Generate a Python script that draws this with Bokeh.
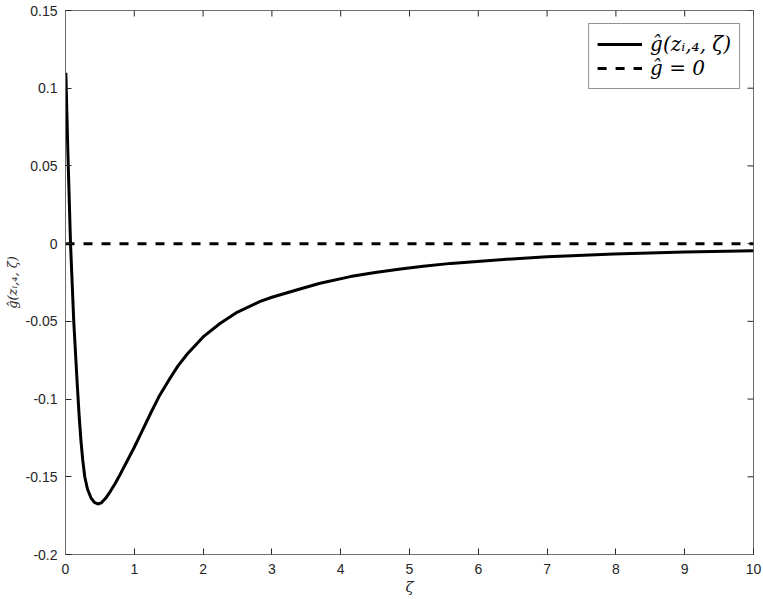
import math
from bokeh.plotting import figure
from bokeh.models import (Legend, LegendItem, Range1d, FixedTicker,
                          CustomJSTickFormatter)
from bokeh.embed import file_html
from bokeh.resources import INLINE

# ---- data ----
zeta = [0.005, 0.035, 0.073, 0.12, 0.17, 0.20, 0.225, 0.25, 0.28, 0.32,
        0.37, 0.42, 0.47, 0.52, 0.58, 0.65, 0.72, 0.80, 0.90, 1.00, 1.12,
        1.25, 1.37, 1.50, 1.63, 1.77, 2.00, 2.25, 2.50, 2.83, 3.00, 3.42,
        3.70, 4.14, 4.50, 4.87, 5.20, 5.60, 6.32, 7.00, 7.97, 9.00, 10.0]
g_hat = [0.110, 0.058, 0.000, -0.050, -0.090, -0.112, -0.127, -0.139,
         -0.150, -0.158, -0.1635, -0.1665, -0.1675, -0.1668, -0.1640,
         -0.1595, -0.1545, -0.1480, -0.1395, -0.1310, -0.1200, -0.1080,
         -0.0975, -0.0880, -0.0790, -0.0710, -0.0600, -0.0512, -0.0440,
         -0.0372, -0.0345, -0.0290, -0.0255, -0.0212, -0.0185, -0.0163,
         -0.0145, -0.0127, -0.0103, -0.0085, -0.0066, -0.0054, -0.0045]
zero_x = [0, 10]
zero_y = [0, 0]

x_min, x_max = 0, 10
y_min, y_max = -0.2, 0.15
x_ticks = [0, 1, 2, 3, 4, 5, 6, 7, 8, 9, 10]
x_tick_labels = ["0", "1", "2", "3", "4", "5", "6", "7", "8", "9", "10"]
y_ticks = [-0.2, -0.15, -0.1, -0.05, 0, 0.05, 0.1, 0.15]
y_tick_labels = ["-0.2", "-0.15", "-0.1", "-0.05", "0", "0.05", "0.1", "0.15"]

legend_labels = ["ĝ(zᵢ,₄, ζ)", "ĝ = 0"]
x_label = "ζ"
y_label = "ĝ(zᵢ,₄, ζ)"

AX = "#262626"
AXL = "#6e6e6e"

p = figure(width=763, height=599,
           x_range=Range1d(x_min, x_max), y_range=Range1d(y_min, y_max),
           output_backend="svg", toolbar_location=None,
           min_border_left=65, min_border_top=10, min_border_right=10,
           min_border_bottom=45)
p.xgrid.visible = False
p.ygrid.visible = False
p.outline_line_color = AXL
p.outline_line_width = 1
p.background_fill_color = "white"
p.border_fill_color = "white"

code = """
let best = 0;
for (let i = 0; i < tvals.length; i++) {
  if (Math.abs(tvals[i] - tick) < Math.abs(tvals[best] - tick)) best = i;
}
return tlabs[best];
"""
xfmt = CustomJSTickFormatter(args=dict(tvals=x_ticks, tlabs=x_tick_labels), code=code)
yfmt = CustomJSTickFormatter(args=dict(tvals=y_ticks, tlabs=y_tick_labels), code=code)


def style(ax, ticks, fmt):
    ax.ticker = FixedTicker(ticks=ticks)
    ax.formatter = fmt
    ax.axis_line_color = AXL
    ax.axis_line_width = 1
    ax.major_tick_line_color = AX
    ax.major_tick_line_width = 1
    ax.major_tick_in = 6
    ax.major_tick_out = 0
    ax.minor_tick_line_color = None
    ax.major_label_text_font = "Liberation Sans"
    ax.major_label_text_font_size = "14px"
    ax.major_label_text_color = AX


style(p.xaxis[0], x_ticks, xfmt)
style(p.yaxis[0], y_ticks, yfmt)
p.xaxis[0].major_label_standoff = 9
p.yaxis[0].major_label_standoff = 8
p.xaxis[0].axis_label = x_label
p.xaxis[0].axis_label_text_font = "DejaVu Serif"
p.xaxis[0].axis_label_text_font_style = "italic"
p.xaxis[0].axis_label_text_font_size = "15px"
p.xaxis[0].axis_label_text_color = AX
p.xaxis[0].axis_label_standoff = 1
p.yaxis[0].axis_label = y_label
p.yaxis[0].axis_label_text_font = "DejaVu Serif"
p.yaxis[0].axis_label_text_font_style = "italic"
p.yaxis[0].axis_label_text_font_size = "13px"
p.yaxis[0].axis_label_text_color = AX
p.yaxis[0].axis_label_standoff = 3

# inward ticks on the top and right edges of the box (MATLAB "box on")
p.ray(x=x_ticks, y=[y_max] * len(x_ticks), length=6, length_units="screen",
      angle=-math.pi / 2, line_color=AX, line_width=1)
p.ray(x=[x_max] * len(y_ticks), y=y_ticks, length=6, length_units="screen",
      angle=math.pi, line_color=AX, line_width=1)

r1 = p.line(zeta, g_hat, line_color="black", line_width=3)
r2 = p.line(zero_x, zero_y, line_color="black", line_width=3, line_dash="9 9")

legend = Legend(items=[LegendItem(label=legend_labels[0], renderers=[r1]),
                       LegendItem(label=legend_labels[1], renderers=[r2])],
                location="top_right", margin=13, padding=8, spacing=0,
                glyph_width=45, glyph_height=20, label_height=20,
                label_standoff=8, label_text_font="DejaVu Serif",
                label_text_font_style="italic", label_text_font_size="20px",
                label_text_color="black", border_line_color=AX,
                border_line_width=1, background_fill_color="white",
                background_fill_alpha=1)
p.add_layout(legend)

open("out.html", "w").write(file_html(p, INLINE))
